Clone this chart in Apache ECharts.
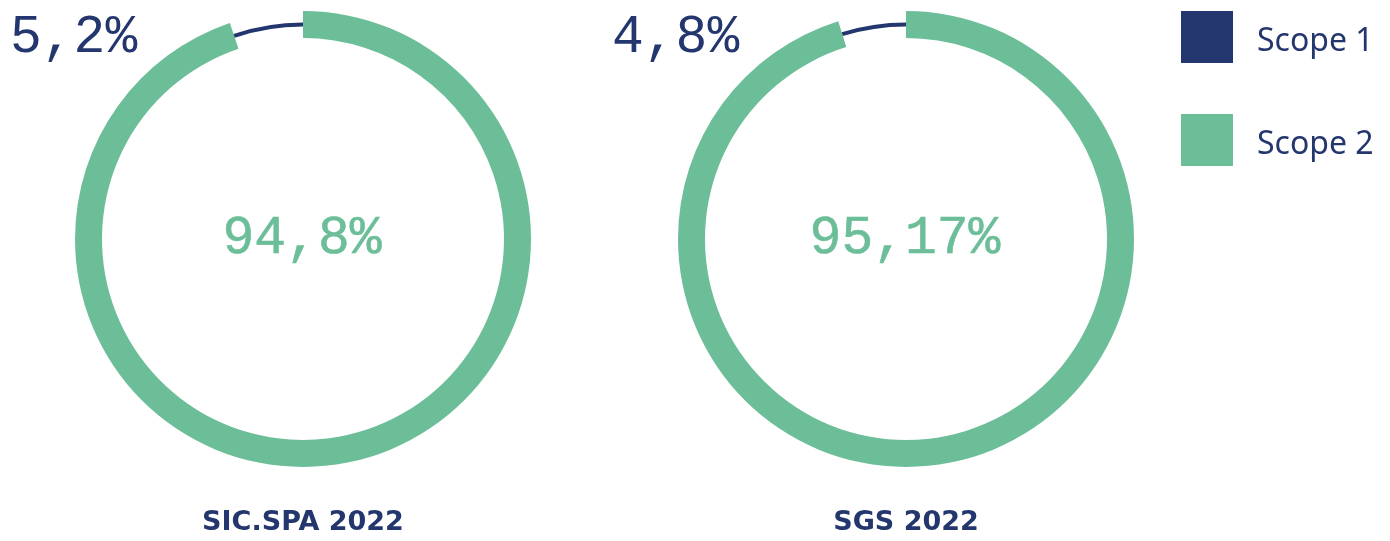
<!DOCTYPE html>
<html>
<head>
<meta charset="utf-8">
<script src="https://cdn.jsdelivr.net/npm/echarts@6/dist/echarts.min.js"></script>
<style>
  html, body { margin: 0; padding: 0; background: #fff; }
  #main { width: 1390px; height: 541px; }
</style>
</head>
<body>
<div id="main"></div>
<script>
var groups = ['SIC.SPA 2022', 'SGS 2022'];
var scopeNames = ['Scope 1', 'Scope 2'];
var scope1 = [5.2, 4.8];
var scope2 = [94.8, 95.17];

var navy = '#24366e';
var green = '#6cbe99';
var centers = [[303, 239], [906, 239]];
var cornerX = [10, 612];

function fmt(v) {
  return String(v).replace('.', ',') + '%';
}

var myChart = echarts.init(document.getElementById('main'));

var series = [];
var titles = [];
for (var i = 0; i < groups.length; i++) {
  // thick ring : scope 2
  series.push({
    type: 'pie',
    center: centers[i],
    radius: [201, 228],
    startAngle: 90,
    silent: true,
    label: { show: false },
    labelLine: { show: false },
    emphasis: { disabled: true },
    data: [
      { name: scopeNames[1], value: scope2[i], itemStyle: { color: green } },
      { name: scopeNames[0], value: scope1[i], itemStyle: { color: 'rgba(0,0,0,0)' } }
    ]
  });
  // thin line : scope 1
  series.push({
    type: 'pie',
    center: centers[i],
    radius: [212.5, 216.5],
    startAngle: 90,
    silent: true,
    label: { show: false },
    labelLine: { show: false },
    emphasis: { disabled: true },
    data: [
      { name: scopeNames[1], value: scope2[i], itemStyle: { color: 'rgba(0,0,0,0)' } },
      { name: scopeNames[0], value: scope1[i], itemStyle: { color: navy } }
    ]
  });

  titles.push({
    text: fmt(scope2[i]),
    left: centers[i][0] - 1, top: 212,
    padding: 0,
    textAlign: 'center',
    textStyle: { fontFamily: 'Liberation Mono', fontSize: 53, fontWeight: 'normal', color: green,
      textBorderColor: green, textBorderWidth: 0.6 }
  });
  titles.push({
    text: fmt(scope1[i]),
    left: cornerX[i], top: 11,
    padding: 0,
    textStyle: { fontFamily: 'Liberation Mono', fontSize: 53, fontWeight: 'normal', color: navy }
  });
  titles.push({
    text: groups[i],
    left: centers[i][0], top: 509,
    padding: 0,
    textAlign: 'center',
    textStyle: { fontFamily: 'DejaVu Sans', fontSize: 27, fontWeight: 'bold', color: navy }
  });
}

var option = {
  backgroundColor: '#fff',
  animation: false,
  title: titles,
  legend: {
    orient: 'vertical',
    left: 1181,
    top: 11,
    padding: 0,
    icon: 'rect',
    itemWidth: 52,
    itemHeight: 52,
    itemGap: 51,
    selectedMode: false,
    formatter: '{a|{name}}',
    textStyle: {
      fontFamily: 'Noto Sans', fontSize: 32, color: navy,
      rich: { a: { fontFamily: 'Noto Sans', fontSize: 32, color: navy, padding: [10, 0, 0, 19] } }
    },
    data: [
      { name: scopeNames[0], itemStyle: { color: navy } },
      { name: scopeNames[1], itemStyle: { color: green } }
    ]
  },
  series: series
};

myChart.setOption(option, true);
</script>
</body>
</html>
